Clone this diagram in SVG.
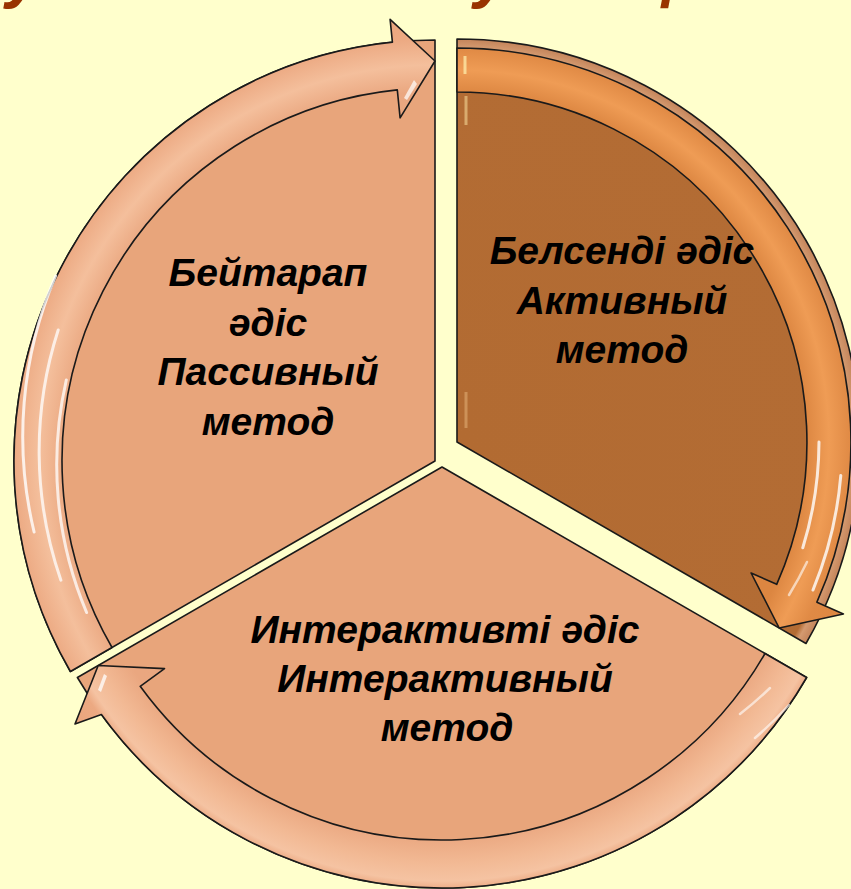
<svg xmlns="http://www.w3.org/2000/svg" width="851" height="889" viewBox="0 0 851 889">
<defs>
<style>
.lbl{font-family:"Liberation Sans",Arial,sans-serif;font-weight:bold;font-style:italic;font-size:39px;fill:#000;text-anchor:middle}
.title{font-family:"Liberation Sans",Arial,sans-serif;font-weight:bold;font-style:italic;font-size:66px;fill:#993300}
.edge{stroke:#1a1a1a;stroke-width:1.6;stroke-linejoin:round}
.hl{fill:none;stroke:#ffffff;stroke-linecap:round}
</style>
<radialGradient id="gLeftBand" gradientUnits="userSpaceOnUse" cx="435" cy="461" r="450">
<stop offset="0" stop-color="#e9a57d"/>
<stop offset="0.82" stop-color="#eaa780"/>
<stop offset="0.88" stop-color="#f4bf9c"/>
<stop offset="0.94" stop-color="#eca982"/>
<stop offset="1" stop-color="#e9a57d"/>
</radialGradient>
<radialGradient id="gBotBand" gradientUnits="userSpaceOnUse" cx="442" cy="467" r="450">
<stop offset="0" stop-color="#e9a57d"/>
<stop offset="0.82" stop-color="#eaa780"/>
<stop offset="0.88" stop-color="#f2b994"/>
<stop offset="0.92" stop-color="#f5c3a2"/>
<stop offset="0.94" stop-color="#eca982"/>
<stop offset="1" stop-color="#e9a57d"/>
</radialGradient>
<radialGradient id="gRightBand" gradientUnits="userSpaceOnUse" cx="457" cy="442" r="430">
<stop offset="0" stop-color="#dc8540"/>
<stop offset="0.81" stop-color="#dc8641"/>
<stop offset="0.865" stop-color="#ef9c55"/>
<stop offset="0.915" stop-color="#e08a45"/>
<stop offset="1" stop-color="#dc8540"/>
</radialGradient>
<radialGradient id="gRightWedge" gradientUnits="userSpaceOnUse" cx="457" cy="442" r="403">
<stop offset="0" stop-color="#b26b32"/>
<stop offset="0.965" stop-color="#b36c34"/>
<stop offset="0.978" stop-color="#d49a70"/>
<stop offset="1" stop-color="#c4845a"/>
</radialGradient>
<linearGradient id="gStripeV" x1="0" y1="0" x2="0" y2="1">
<stop offset="0" stop-color="#fff" stop-opacity="0"/>
<stop offset="0.3" stop-color="#fff" stop-opacity="0.45"/>
<stop offset="0.8" stop-color="#fff" stop-opacity="0.45"/>
<stop offset="1" stop-color="#fff" stop-opacity="0"/>
</linearGradient>
</defs>
<rect x="0" y="0" width="851" height="889" fill="#ffffcc"/>

<g id="title">
<text class="title" x="6" y="-5" textLength="430" lengthAdjust="spacing">учителя и</text>
<text class="title" x="474" y="-5" textLength="390" lengthAdjust="spacing">учащихся</text>
</g>

<g id="node-passive">
<path class="edge" fill="#e8a57b" d="M435,461 L70.4,671.5 A421,421 0 0 1 435,40 Z"/>
<line x1="426" y1="100" x2="426" y2="452" stroke="url(#gStripeV)" stroke-width="4"/>
<path class="edge" fill="url(#gLeftBand)" d="M70.4,671.5 A421,421 0 0 1 392.4,42.1 L390.1,19.3 L435,61 L400.1,117.8 L397.3,89.9 A373,373 0 0 0 112,647.5 Z"/>
<path class="hl" stroke-width="3" stroke-opacity="0.75" d="M60.9,580.2 A394,394 0 0 1 58.2,330"/>
<path class="hl" stroke-width="3" stroke-opacity="0.8" d="M34.1,532 A408,408 0 0 1 55.6,276"/>
<path class="hl" stroke-width="3" stroke-opacity="0.75" d="M86.6,612.5 A380,380 0 0 1 66.3,380"/>
<path fill="#fff" fill-opacity="0.7" d="M404,98 L414,80 L417,84 L407,100 Z"/>
<text class="lbl" x="268" y="286">Бейтарап</text>
<text class="lbl" x="268" y="336">әдіс</text>
<text class="lbl" x="268" y="385">Пассивный</text>
<text class="lbl" x="268" y="435">метод</text>
</g>

<g id="node-active">
<path class="edge" fill="url(#gRightWedge)" d="M457,442 L457,39 A403,403 0 0 1 806,643.5 Z"/>
<line x1="466" y1="96" x2="466" y2="125" stroke="#ffe9a8" stroke-opacity="0.5" stroke-width="3"/>
<line x1="466" y1="392" x2="466" y2="428" stroke="#ffd9a0" stroke-opacity="0.35" stroke-width="3"/>
<path class="edge" fill="url(#gRightBand)" d="M457,48 A394,394 0 0 1 816.9,602.2 L843.4,614 L779.2,628 L751.1,573 L776.7,584.3 A350,350 0 0 0 457,92 Z"/>
<path class="hl" stroke-width="3" stroke-opacity="0.8" d="M819,442 A362,362 0 0 1 802.8,547.8"/>
<path class="hl" stroke-width="3" stroke-opacity="0.8" d="M840.8,475.5 A385,385 0 0 1 813,590"/>
<path class="hl" stroke-width="2.5" stroke-opacity="0.6" d="M807,562 A362,362 0 0 1 789,595"/>
<line x1="465" y1="56" x2="465" y2="74" stroke="#fff2b0" stroke-width="3" stroke-opacity="0.7"/>
<text class="lbl" x="622" y="264">Белсенді әдіс</text>
<text class="lbl" x="622" y="314">Активный</text>
<text class="lbl" x="622" y="363">метод</text>
</g>

<g id="node-interactive">
<path class="edge" fill="#e8a57b" d="M442,467 L806.6,677.5 A421,421 0 0 1 77.4,677.5 Z"/>
<path class="edge" fill="url(#gBotBand)" d="M806.6,677.5 A421,421 0 0 1 101.4,714.5 L75,724 L98.2,665.5 L164.5,668.6 L140.2,686.3 A373,373 0 0 0 765,653.5 Z"/>
<path class="hl" stroke-width="2.5" stroke-opacity="0.6" d="M789,705 A407,407 0 0 1 755,738"/>
<path class="hl" stroke-width="2.5" stroke-opacity="0.6" d="M770,688 A385,385 0 0 1 740,714"/>
<path fill="#fff" fill-opacity="0.75" d="M98,690 L104,674 L107,676 L101,692 Z"/>
<text class="lbl" x="445" y="643">Интерактивті әдіс</text>
<text class="lbl" x="445" y="692">Интерактивный</text>
<text class="lbl" x="447" y="741">метод</text>
</g>
</svg>
